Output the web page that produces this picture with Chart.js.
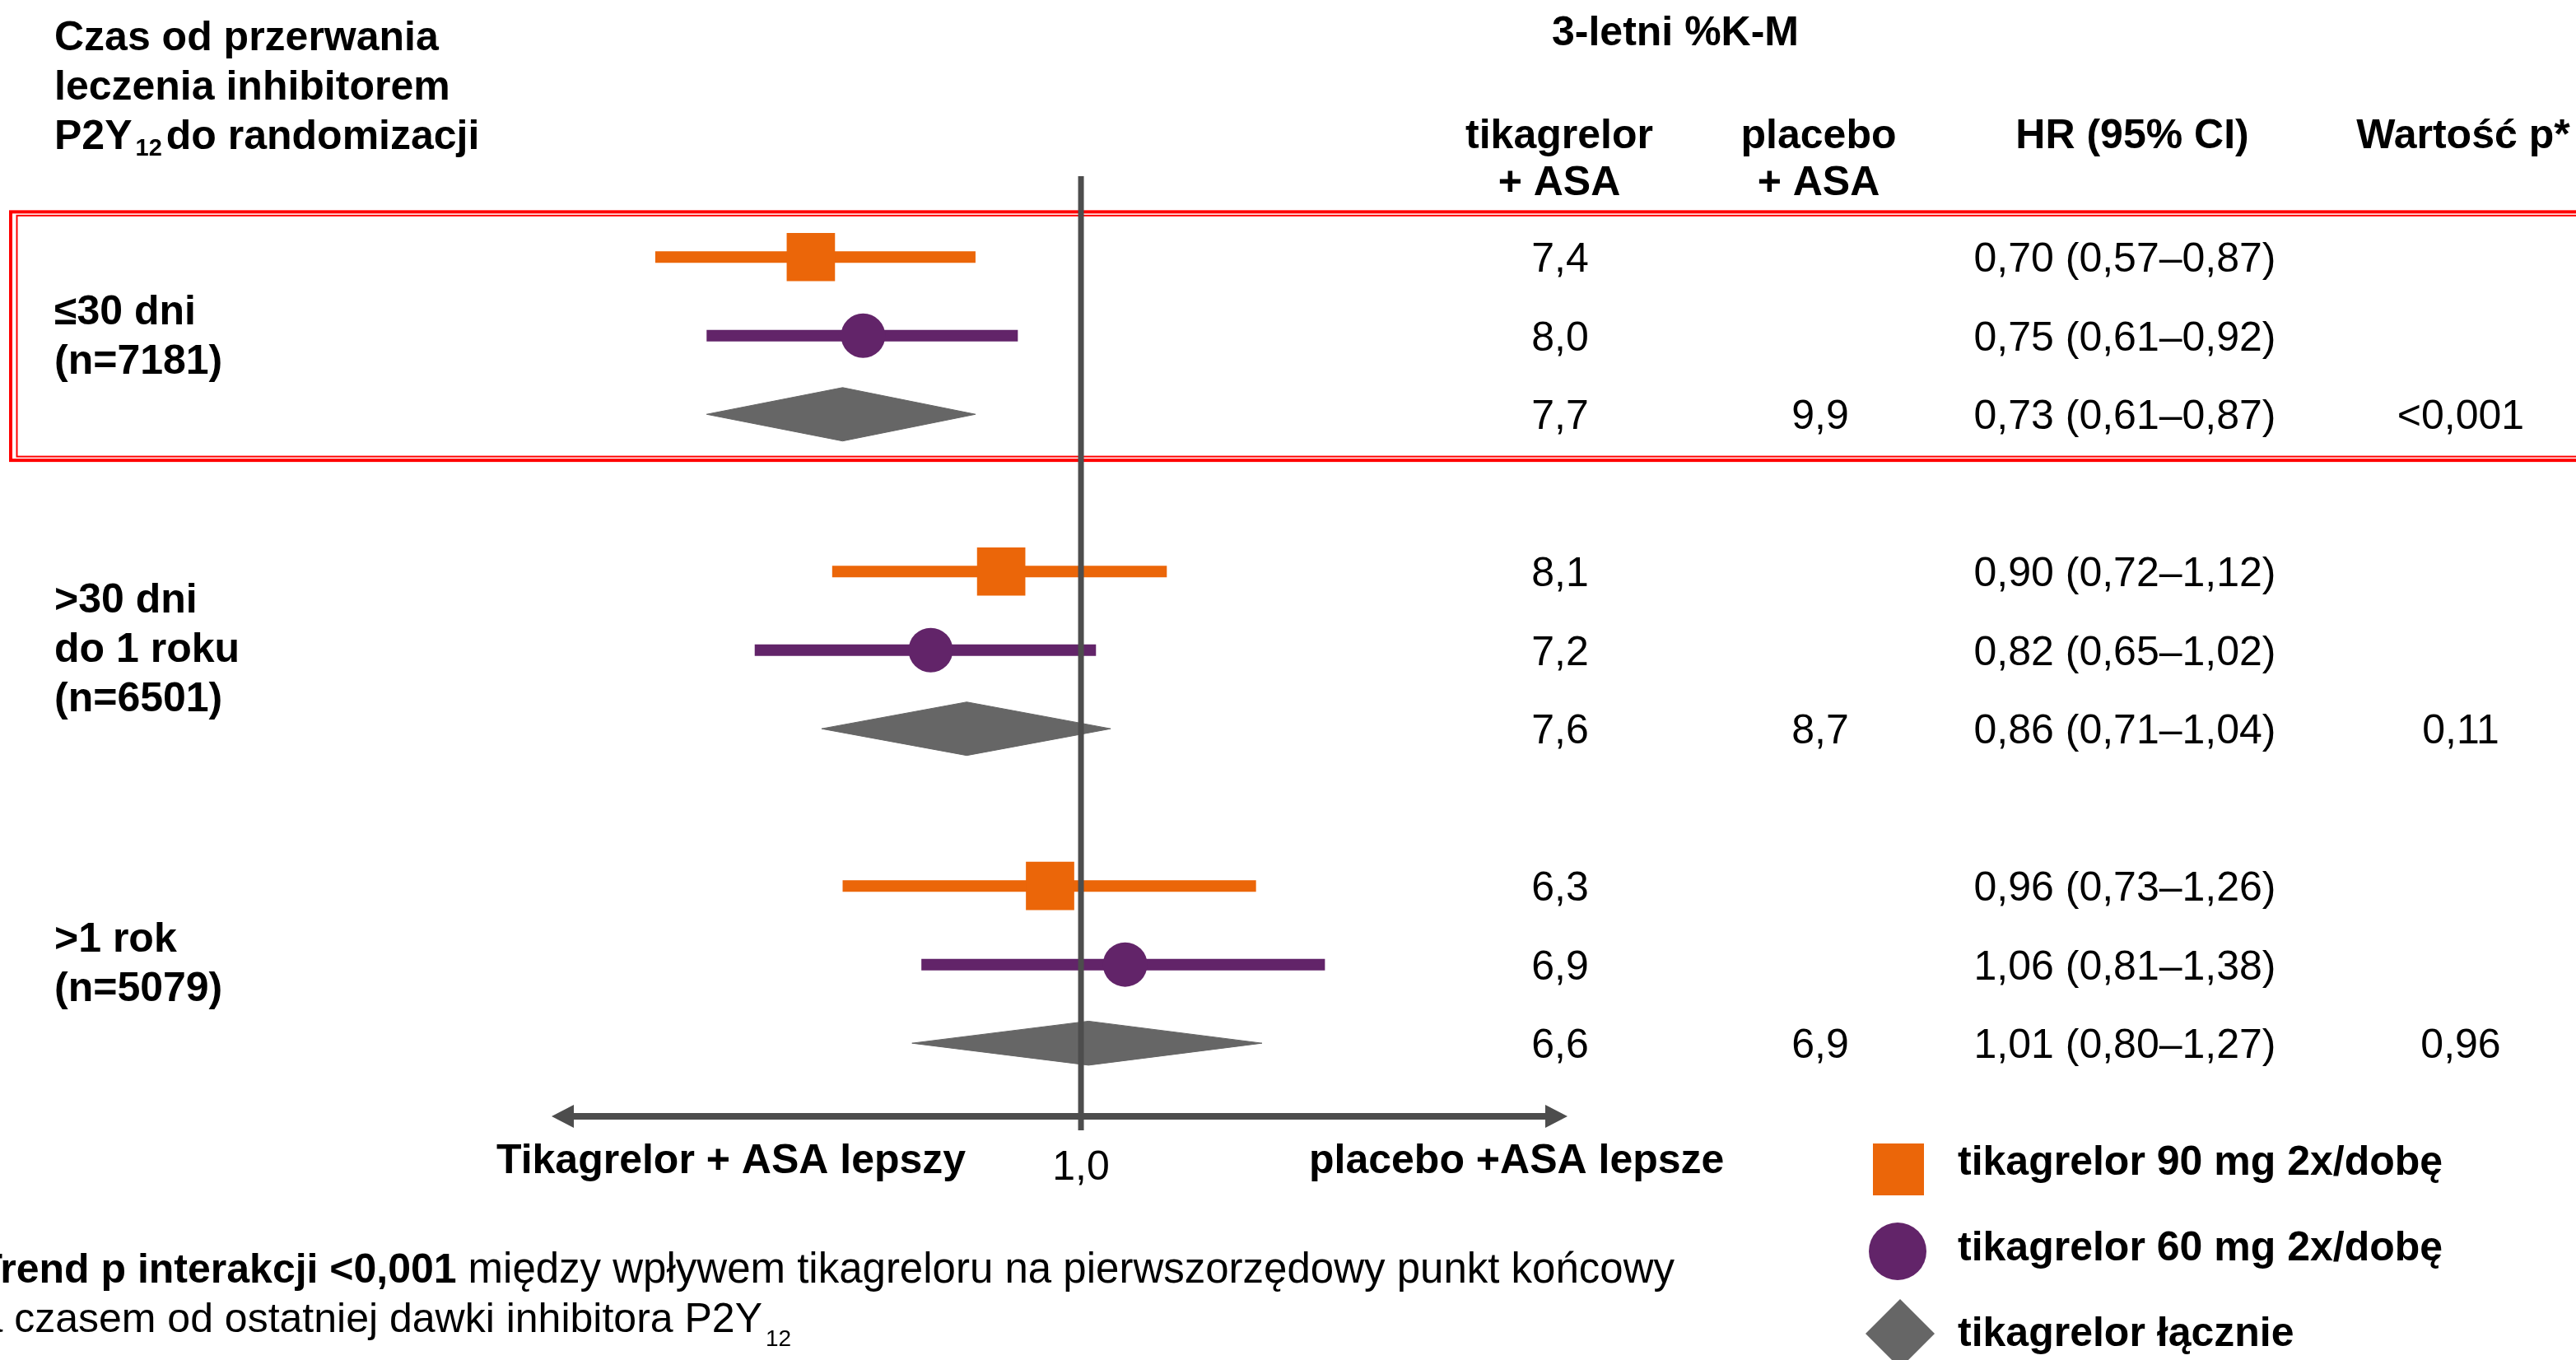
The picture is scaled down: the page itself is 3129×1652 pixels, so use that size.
<!DOCTYPE html>
<html>
<head>
<meta charset="utf-8">
<script src="https://cdn.jsdelivr.net/npm/chart.js@4.4.1/dist/chart.umd.min.js"></script>
<style>
  html, body { margin: 0; padding: 0; background: #fff; }
  #wrap { width: 3129px; height: 1652px; }
</style>
</head>
<body>
<div id="wrap"><canvas id="forest" width="3129" height="1652"></canvas></div>
<script>
// subgroups: time from stopping P2Y12 inhibitor to randomisation
var groupLabels = [['≤30 dni', '(n=7181)'], ['>30 dni', 'do 1 roku', '(n=6501)'], ['>1 rok', '(n=5079)']];
var groupRows = [0, 4, 8];

// tikagrelor 90 mg 2x/dobe
var hr90 = [0.70, 0.90, 0.96];
var lo90 = [0.57, 0.72, 0.73];
var hi90 = [0.87, 1.12, 1.26];
var km90 = ['7,4', '8,1', '6,3'];

// tikagrelor 60 mg 2x/dobe
var hr60 = [0.75, 0.82, 1.06];
var lo60 = [0.61, 0.65, 0.81];
var hi60 = [0.92, 1.02, 1.38];
var km60 = ['8,0', '7,2', '6,9'];

// tikagrelor lacznie
var hrAll = [0.73, 0.86, 1.01];
var loAll = [0.61, 0.71, 0.80];
var hiAll = [0.87, 1.04, 1.27];
var kmAll = ['7,7', '7,6', '6,6'];

var kmPlacebo = ['9,9', '8,7', '6,9'];
var pValues = ['<0,001', '0,11', '0,96'];

var tickValues = [1];
var tickLabels = ['1,0'];
var legendLabels = ['tikagrelor 90 mg 2x/dobę', 'tikagrelor 60 mg 2x/dobę', 'tikagrelor łącznie'];

var ORANGE = '#eb6609';
var PURPLE = '#622469';
var GREY = '#666666';
var LINE = '#4d4d4d';
var FONT = '"Liberation Sans", Arial, sans-serif';

function fmt(v) { return v.toFixed(2).replace('.', ','); }

// CI lines, one dataset per series, gaps between rows
function ciData(lo, hi, hr, offset) {
  var out = [];
  for (var g = 0; g < lo.length; g++) {
    var r = groupRows[g] + offset;
    out.push({x: lo[g], y: r}, {x: hi[g], y: r}, {x: hr[g], y: null});
  }
  return out;
}
function pointData(hr, offset) {
  return hr.map(function(v, g) { return {x: v, y: groupRows[g] + offset}; });
}

var datasets = [
  {type: 'scatter', data: pointData(hr90, 0), pointStyle: 'rect', pointRadius: 41.5,
   backgroundColor: ORANGE, borderWidth: 0, order: 0},
  {type: 'scatter', data: pointData(hr60, 1), pointStyle: 'circle', pointRadius: 27,
   backgroundColor: PURPLE, borderWidth: 0, order: 0},
  {type: 'line', data: ciData(lo90, hi90, hr90, 0), borderColor: ORANGE, borderWidth: 14,
   pointRadius: 0, spanGaps: false, fill: false, order: 1},
  {type: 'line', data: ciData(lo60, hi60, hr60, 1), borderColor: PURPLE, borderWidth: 14,
   pointRadius: 0, spanGaps: false, fill: false, order: 1}
];

// pooled diamonds: upper half filled down to the lower half
var diamondHalf = [0.34, 0.34, 0.28];
for (var g = 0; g < hrAll.length; g++) {
  var r = groupRows[g] + 2;
  datasets.push({type: 'line', order: 2, borderColor: GREY, backgroundColor: GREY, borderWidth: 1,
    pointRadius: 0, fill: '+1', tension: 0,
    data: [{x: loAll[g], y: r}, {x: hrAll[g], y: r - diamondHalf[g]}, {x: hiAll[g], y: r}]});
  datasets.push({type: 'line', order: 2, borderColor: GREY, backgroundColor: GREY, borderWidth: 1,
    pointRadius: 0, fill: false, tension: 0,
    data: [{x: loAll[g], y: r}, {x: hrAll[g], y: r + diamondHalf[g]}, {x: hiAll[g], y: r}]});
}

var forestDecor = {
  id: 'forestDecor',
  beforeDatasetsDraw: function(chart) {
    var ctx = chart.ctx, ys = chart.scales.y;
    var top = ys.getPixelForValue(-0.575), bottom = ys.getPixelForValue(2.585);
    ctx.save();
    ctx.strokeStyle = '#ff0000';
    ctx.lineWidth = 4;
    ctx.strokeRect(13, top, 3300, bottom - top);
    ctx.lineWidth = 2;
    ctx.strokeRect(20.5, top + 4.5, 3300, bottom - top - 9);
    ctx.restore();
  },
  afterDatasetsDraw: function(chart) {
    var ctx = chart.ctx, xs = chart.scales.x, ys = chart.scales.y;
    var x1 = xs.getPixelForValue(1);
    ctx.save();
    ctx.strokeStyle = LINE;
    ctx.fillStyle = LINE;
    // line of no effect
    ctx.lineWidth = 7;
    ctx.beginPath();
    ctx.moveTo(x1, ys.getPixelForValue(-1.03));
    ctx.lineTo(x1, 1373);
    ctx.stroke();
    // double arrow
    var ay = 1356;
    ctx.lineWidth = 8;
    ctx.beginPath();
    ctx.moveTo(695, ay);
    ctx.lineTo(1879, ay);
    ctx.stroke();
    ctx.beginPath();
    ctx.moveTo(670, ay); ctx.lineTo(697, ay - 14); ctx.lineTo(697, ay + 14); ctx.closePath();
    ctx.fill();
    ctx.beginPath();
    ctx.moveTo(1904, ay); ctx.lineTo(1877, ay - 14); ctx.lineTo(1877, ay + 14); ctx.closePath();
    ctx.fill();
    ctx.restore();
  },
  afterDraw: function(chart) {
    var ctx = chart.ctx, xs = chart.scales.x, ys = chart.scales.y;
    var bold = 'bold 50px ' + FONT, reg = '50px ' + FONT;
    ctx.save();
    ctx.fillStyle = '#000';
    ctx.textBaseline = 'alphabetic';

    // header left
    ctx.font = bold;
    ctx.textAlign = 'left';
    ctx.fillText('Czas od przerwania', 66, 61);
    ctx.fillText('leczenia inhibitorem', 66, 121);
    ctx.fillText('P2Y', 66, 181);
    var px = 66 + ctx.measureText('P2Y').width + 4;
    ctx.font = 'bold 29px ' + FONT;
    ctx.fillText('12', px, 189);
    px += ctx.measureText('12').width + 5;
    ctx.font = bold;
    ctx.fillText('do randomizacji', px, 181);

    // column headers
    ctx.textAlign = 'center';
    ctx.fillText('3-letni %K-M', 2035, 55);
    ctx.fillText('tikagrelor', 1894, 180);
    ctx.fillText('+ ASA', 1894, 237);
    ctx.fillText('placebo', 2209, 180);
    ctx.fillText('+ ASA', 2209, 237);
    ctx.fillText('HR (95% CI)', 2590, 180);
    ctx.fillText('Wartość p*', 2992, 180);

    // group labels
    var groupLabelRow = [0.856, 4.52, 8.835];
    ctx.textAlign = 'left';
    groupLabels.forEach(function(lines, g) {
      var base = ys.getPixelForValue(groupLabelRow[g]);
      lines.forEach(function(t, i) { ctx.fillText(t, 66, base + i * 60); });
    });

    // table rows
    ctx.font = reg;
    ctx.textAlign = 'center';
    function row(r, km, pl, hr, lo, hi, p) {
      var y = ys.getPixelForValue(r) + 18;
      ctx.fillText(km, 1895, y);
      if (pl) ctx.fillText(pl, 2211, y);
      ctx.fillText(fmt(hr) + ' (' + fmt(lo) + '–' + fmt(hi) + ')', 2581, y);
      if (p) ctx.fillText(p, 2989, y);
    }
    for (var g = 0; g < groupRows.length; g++) {
      row(groupRows[g], km90[g], null, hr90[g], lo90[g], hi90[g], null);
      row(groupRows[g] + 1, km60[g], null, hr60[g], lo60[g], hi60[g], null);
      row(groupRows[g] + 2, kmAll[g], kmPlacebo[g], hrAll[g], loAll[g], hiAll[g], pValues[g]);
    }

    // axis
    tickValues.forEach(function(v, i) {
      ctx.fillText(tickLabels[i], xs.getPixelForValue(v), 1433);
    });
    ctx.font = bold;
    ctx.textAlign = 'left';
    ctx.fillText('Tikagrelor + ASA lepszy', 603, 1425);
    ctx.fillText('placebo +ASA lepsze', 1590, 1425);

    // legend
    ctx.fillStyle = ORANGE;
    ctx.fillRect(2275, 1389, 62, 63);
    ctx.fillStyle = PURPLE;
    ctx.beginPath();
    ctx.ellipse(2305, 1520, 35, 35, 0, 0, Math.PI * 2);
    ctx.fill();
    ctx.fillStyle = GREY;
    ctx.beginPath();
    ctx.moveTo(2266, 1620); ctx.lineTo(2308, 1578); ctx.lineTo(2350, 1620); ctx.lineTo(2308, 1662);
    ctx.closePath();
    ctx.fill();
    ctx.fillStyle = '#000';
    ctx.fillText(legendLabels[0], 2378, 1427);
    ctx.fillText(legendLabels[1], 2378, 1531);
    ctx.fillText(legendLabels[2], 2378, 1635);

    // footnote (starts off the left edge, as in the slide)
    var b1 = 'Trend p interakcji <0,001 ';
    var r1 = 'między wpływem tikagreloru na pierwszorzędowy punkt końcowy';
    ctx.font = '51px ' + FONT;
    var rx = 2034 - ctx.measureText(r1).width;
    ctx.fillText(r1, rx, 1558);
    ctx.font = bold;
    ctx.fillText(b1, rx - ctx.measureText(b1).width, 1558);
    ctx.font = reg;
    var l2 = 'a czasem od ostatniej dawki inhibitora P2Y';
    ctx.fillText(l2, 926 - ctx.measureText(l2).width, 1618);
    ctx.font = '28px ' + FONT;
    ctx.fillText('12', 930, 1635);
    ctx.restore();
  }
};

Chart.defaults.font.family = FONT;
var chart = new Chart(document.getElementById('forest'), {
  type: 'scatter',
  data: {datasets: datasets},
  options: {
    responsive: false,
    animation: false,
    events: [],
    layout: {padding: 45},
    plugins: {legend: {display: false}, tooltip: {enabled: false}},
    scales: {
      x: {type: 'logarithmic', min: 0.252, max: 6.855, bounds: 'data', display: false},
      y: {type: 'linear', min: -2.799, max: 13.559, reverse: true, display: false}
    }
  },
  plugins: [forestDecor]
});
</script>
</body>
</html>
